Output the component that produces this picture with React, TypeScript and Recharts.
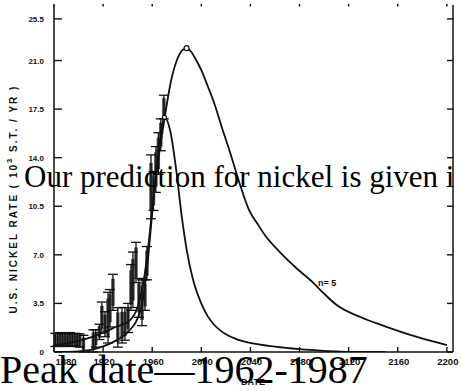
import React from 'react';
import { ComposedChart, Line, Scatter, ErrorBar, XAxis, YAxis, ReferenceDot } from 'recharts';

// Observed production rate with uncertainty ranges (10^3 short tons / yr)
const obsYears = [1881, 1883, 1885, 1887, 1889, 1891, 1893, 1895, 1897, 1899, 1901, 1904, 1912, 1914, 1917, 1919, 1921.5, 1924, 1925.6, 1928, 1932, 1935.4, 1937.8, 1940.3, 1942.7, 1944.3, 1946.8, 1949.2, 1951.7, 1954.1, 1955.7, 1959, 1961, 1963, 1965, 1967, 1969.5];
const obsLow = [0.4, 0.45, 0.4, 0.5, 0.4, 0.45, 0.4, 0.5, 0.45, 0.4, 0.35, 0.0, 0.0, 0.35, 0.9, 1.4, 1.1, 0.65, 1.8, 3.0, 0.35, 0.65, 0.85, 1.4, 3.0, 3.2, 5.0, 2.5, 1.9, 3.0, 5.2, 9.6, 10.2, 11.5, 12.8, 14.5, 16.8];
const obsHigh = [1.35, 1.3, 1.4, 1.3, 1.35, 1.3, 1.4, 1.3, 1.35, 1.3, 1.3, 1.2, 1.6, 1.6, 2.0, 3.6, 2.9, 4.3, 4.5, 5.6, 3.2, 3.2, 3.2, 3.5, 6.3, 7.2, 7.9, 5.3, 5.2, 5.2, 7.6, 14.2, 13.0, 14.8, 15.8, 16.8, 18.5];

// Fitted complete cycle, n = 5
const n5Years = [1880, 1890, 1900, 1910, 1920, 1930, 1942, 1948, 1952, 1956, 1960, 1965, 1970, 1975, 1980, 1984, 1988, 1992, 1996, 2000, 2005, 2011, 2017, 2023, 2031, 2039, 2046, 2052, 2064, 2078, 2091, 2100, 2110, 2130, 2148, 2175, 2200];
const n5Rate = [0.5, 0.6, 0.8, 1.05, 1.4, 1.8, 2.3, 3.2, 4.6, 7.0, 10.2, 13.9, 16.8, 19.4, 21.0, 21.7, 21.9, 21.6, 21.0, 20.3, 19.2, 17.8, 16.1, 14.5, 12.2, 10.2, 9.2, 8.4, 7.2, 6.0, 5.0, 4.2, 3.4, 2.5, 1.9, 1.1, 0.5];

// Narrow symmetric-type cycle
const narrowYears = [1880, 1900, 1910, 1920, 1930, 1942, 1948, 1952, 1956, 1960, 1965, 1970, 1975, 1980, 1984, 1988, 1993, 1999, 2005, 2010, 2017, 2028, 2040, 2060, 2080, 2100, 2121, 2150];
const narrowRate = [0.0, 0.05, 0.15, 0.4, 0.8, 1.6, 2.4, 3.6, 6.2, 10.0, 14.3, 16.9, 15.8, 12.8, 9.8, 7.4, 5.3, 3.7, 2.6, 2.0, 1.45, 0.95, 0.65, 0.38, 0.2, 0.08, 0.0, 0.0];

const xTicks = [1880, 1920, 1960, 2000, 2040, 2080, 2120, 2160, 2200];
const xTickLabels = ['1880', '1920', '1960', '2000', '2040', '2080', '2120', '2160', '2200'];
const yTicks = [0, 3.5, 7, 10.5, 14, 17.5, 21, 24];
const yTickLabels = ['0', '3.5', '7.0', '10.5', '14.0', '17.5', '21.0', '25.5'];

const observations = obsYears.map((year, i) => {
  const lo = obsLow[i];
  const hi = obsHigh[i];
  const half = (hi - lo) / 2;
  return { year, mid: lo + half, err: [half, half], box: [half * 0.75, half * 0.75] };
});
const n5Data = n5Years.map((year, i) => ({ year, rate: n5Rate[i] }));
const narrowData = narrowYears.map((year, i) => ({ year, rate: narrowRate[i] }));

const INK = '#111';
const sans = '"Liberation Sans", Arial, Helvetica, sans-serif';
const serif = '"Liberation Serif", "Times New Roman", serif';

const LeftTick = (props: any) => {
  const { x, y, payload } = props;
  const label = yTickLabels[yTicks.indexOf(payload.value)];
  return (
    <g>
      <line x1={x} y1={y} x2={x + 8} y2={y} stroke={INK} strokeWidth={1.4} />
      <text x={x - 10} y={y} dy={3} textAnchor="end" fontSize={8} fontWeight="bold" fontFamily={sans} fill={INK}>
        {label}
      </text>
    </g>
  );
};

const RightTick = (props: any) => {
  const { x, y } = props;
  return <line x1={x} y1={y} x2={x - 6} y2={y} stroke={INK} strokeWidth={1.4} />;
};

const BottomTick = (props: any) => {
  const { x, y, payload } = props;
  const idx = xTicks.indexOf(payload.value);
  const label = xTickLabels[idx];
  const dx = idx === 0 ? 12 : 1;
  return (
    <g>
      <line x1={x} y1={y} x2={x} y2={y - 5} stroke={INK} strokeWidth={1.4} />
      <text x={x + dx} y={y + 13} textAnchor="middle" fontSize={9.5} fontWeight="bold" fontFamily={sans} fill={INK}>
        {label}
      </text>
    </g>
  );
};

const TopTick = (props: any) => {
  const { x, y } = props;
  return <line x1={x} y1={y - 1} x2={x} y2={y + 1.5} stroke={INK} strokeWidth={1.5} />;
};

const NoPoint = () => <g />;

export default function App() {
  return (
    <div style={{ position: 'absolute', left: 0, top: 0, width: 461, height: 391, background: '#fff', overflow: 'hidden' }}>
      <ComposedChart width={461} height={391} margin={{ top: 0, right: 0, bottom: 0, left: 0 }}>
        <XAxis
          dataKey="year"
          type="number"
          domain={[1880, 2205]}
          ticks={xTicks}
          height={39}
          tickSize={0}
          tickMargin={0}
          tickLine={false}
          axisLine={{ stroke: INK, strokeWidth: 1.5 }}
          tick={<BottomTick />}
          interval={0}
          allowDataOverflow
        />
        <XAxis
          xAxisId="top"
          dataKey="year"
          type="number"
          orientation="top"
          domain={[1880, 2205]}
          ticks={xTicks}
          height={5}
          tickSize={0}
          tickMargin={0}
          tickLine={false}
          axisLine={false}
          tick={<TopTick />}
          interval={0}
          allowDataOverflow
        />
        <YAxis
          type="number"
          domain={[0, 25]}
          ticks={yTicks}
          width={54}
          tickSize={0}
          tickMargin={0}
          tickLine={false}
          axisLine={{ stroke: INK, strokeWidth: 1.5 }}
          tick={<LeftTick />}
          interval={0}
          allowDataOverflow
        />
        <YAxis
          yAxisId="right"
          orientation="right"
          type="number"
          domain={[0, 25]}
          ticks={yTicks}
          width={8}
          tickSize={0}
          tickMargin={0}
          tickLine={false}
          axisLine={{ stroke: INK, strokeWidth: 1.5 }}
          tick={<RightTick />}
          interval={0}
          allowDataOverflow
        />
        <Scatter data={observations} dataKey="mid" shape={<NoPoint />} isAnimationActive={false}>
          <ErrorBar dataKey="box" direction="y" width={0} stroke="#444" strokeWidth={3.4} isAnimationActive={false} />
          <ErrorBar dataKey="err" direction="y" width={5} stroke={INK} strokeWidth={1.3} isAnimationActive={false} />
        </Scatter>
        <Line data={narrowData} dataKey="rate" type="monotone" stroke={INK} strokeWidth={1.8} dot={false} isAnimationActive={false} />
        <Line data={n5Data} dataKey="rate" type="monotone" stroke={INK} strokeWidth={1.8} dot={false} isAnimationActive={false} />
        <ReferenceDot x={1988} y={21.9} r={2.5} fill="#fff" stroke={INK} strokeWidth={1.2} />
        <ReferenceDot x={1970} y={16.9} r={2} fill="#fff" stroke={INK} strokeWidth={1.2} />
      </ComposedChart>
      <svg width={461} height={391} style={{ position: 'absolute', left: 0, top: 0, pointerEvents: 'none' }}>
        <text
          transform="translate(17 199) rotate(-90)"
          textAnchor="middle"
          fontSize={10}
          fontWeight="bold"
          fontFamily={sans}
          letterSpacing={2}
          fill={INK}
        >
          U.S.  NICKEL  RATE  ( 10<tspan dy={-5} fontSize={7.5}>3</tspan><tspan dy={5}>  S.T. / YR )</tspan>
        </text>
        <text x={318} y={286} fontSize={9} fontWeight="bold" fontFamily={sans} fill={INK}>n= 5</text>
        <text x={253} y={385} textAnchor="middle" fontSize={9} fontWeight="bold" fontFamily={sans} fill={INK}>DATE</text>
        <text x={24} y={187} fontSize={31} fontFamily={serif} fill="#000">Our prediction for nickel is given i</text>
        <text x={0} y={383} fontSize={40} fontFamily={serif} fill="#000">Peak date—1962-1987</text>
      </svg>
    </div>
  );
}
